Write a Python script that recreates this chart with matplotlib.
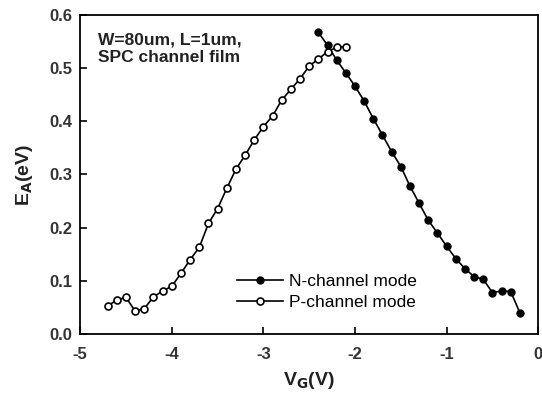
import matplotlib
matplotlib.use('Agg')
import matplotlib.pyplot as plt

# N-channel mode (filled)
vg_n = [-2.4, -2.3, -2.2, -2.1, -2.0, -1.9, -1.8, -1.7, -1.6, -1.5, -1.4, -1.3,
        -1.2, -1.1, -1.0, -0.9, -0.8, -0.7, -0.6, -0.5, -0.4, -0.3, -0.2]
ea_n = [0.567, 0.543, 0.515, 0.491, 0.466, 0.438, 0.405, 0.374, 0.343, 0.315,
        0.278, 0.246, 0.214, 0.190, 0.165, 0.142, 0.123, 0.108, 0.103, 0.078,
        0.081, 0.080, 0.040]

# P-channel mode (open)
vg_p = [-4.7, -4.6, -4.5, -4.4, -4.3, -4.2, -4.1, -4.0, -3.9, -3.8, -3.7, -3.6,
        -3.5, -3.4, -3.3, -3.2, -3.1, -3.0, -2.9, -2.8, -2.7, -2.6, -2.5, -2.4,
        -2.3, -2.2, -2.1]
ea_p = [0.053, 0.064, 0.069, 0.043, 0.048, 0.070, 0.081, 0.090, 0.114, 0.140,
        0.163, 0.208, 0.236, 0.274, 0.310, 0.336, 0.365, 0.390, 0.410, 0.440,
        0.460, 0.480, 0.504, 0.517, 0.531, 0.539, 0.540]

plt.rcParams['font.family'] = ['Liberation Sans', 'DejaVu Sans']

fig = plt.figure(figsize=(5.42, 4.03), dpi=100)
ax = fig.add_axes([0.148, 0.171, 0.845, 0.792])

ax.plot(vg_n, ea_n, '-o', color='black', lw=1.2, ms=5, mfc='black',
        mec='black', label='N-channel mode')
ax.plot(vg_p, ea_p, '-o', color='black', lw=1.2, ms=5, mfc='white',
        mec='black', mew=1.2, label='P-channel mode')

ax.set_xlim(-5, 0)
ax.set_ylim(0, 0.6)
ax.set_xticks([-5, -4, -3, -2, -1, 0])
ax.set_xticklabels(['-5', '-4', '-3', '-2', '-1', '0'])
ax.set_yticks([0, 0.1, 0.2, 0.3, 0.4, 0.5, 0.6])
ax.set_yticklabels(['0.0', '0.1', '0.2', '0.3', '0.4', '0.5', '0.6'])
ax.tick_params(direction='in', length=5, width=1.2, labelsize=12)
ax.tick_params(axis='x', pad=9)
ax.tick_params(axis='y', pad=6)
for lbl in ax.get_xticklabels() + ax.get_yticklabels():
    lbl.set_fontweight('bold')
    lbl.set_color('#333333')
for sp in ax.spines.values():
    sp.set_linewidth(1.3)

ax.set_xlabel(r'V$_\mathbf{G}$(V)', fontsize=14, fontweight='bold', labelpad=6,
              color='#222222')
ax.set_ylabel(r'E$_\mathbf{A}$(eV)', fontsize=14, fontweight='bold', labelpad=10,
              color='#222222')

ax.text(0.038, 0.945, 'W=80um, L=1um,\nSPC channel film', transform=ax.transAxes,
        fontsize=12.5, fontweight='bold', va='top', ha='left', linespacing=1.2,
        color='#222222')

ax.legend(loc='upper left', bbox_to_anchor=(0.343, 0.188), frameon=False,
          fontsize=12.5, handlelength=2.65, handletextpad=0.3, labelspacing=0.32,
          borderaxespad=0, borderpad=0)

fig.savefig('out.png', dpi=100)
